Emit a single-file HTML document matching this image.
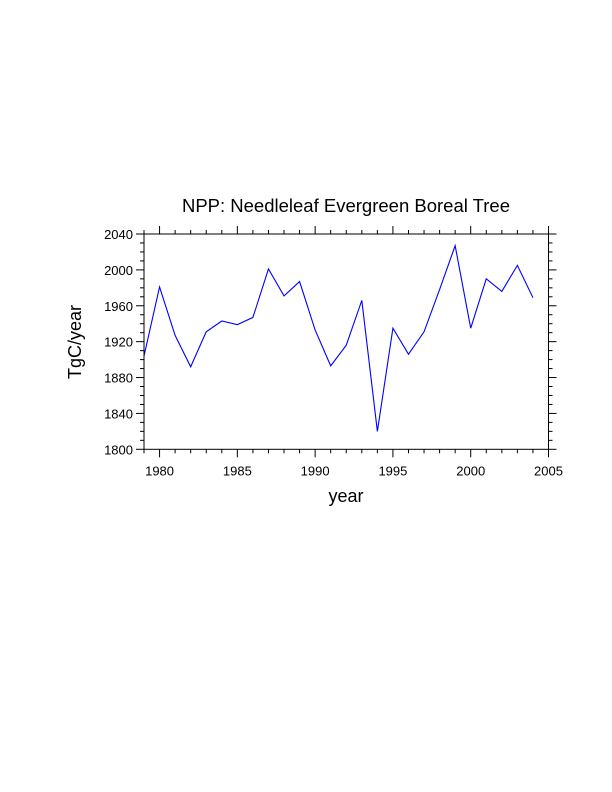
<!DOCTYPE html>
<html><head><meta charset="utf-8"><style>
html,body{margin:0;padding:0;background:#fff;}
svg{display:block;font-family:"Liberation Sans",Arial,sans-serif;}
</style></head><body>
<svg width="612" height="792">
<g id="ticks"></g>
<text x="346" y="212" text-anchor="middle" font-size="18.5">NPP: Needleleaf Evergreen Boreal Tree</text>
<text x="346" y="502" text-anchor="middle" font-size="18">year</text>
<text transform="translate(81,342) rotate(-90)" text-anchor="middle" font-size="18">TgC/year</text>
<path id="line" fill="none" stroke="#0000ff" stroke-width="1.1"/>
<rect x="144" y="234" width="404.5" height="215.3" fill="none" stroke="#000" stroke-width="1"/>
</svg>
<script>
const years=[1979,1980,1981,1982,1983,1984,1985,1986,1987,1988,1989,1990,1991,1992,1993,1994,1995,1996,1997,1998,1999,2000,2001,2002,2003,2004];
const npp=[1904,1981,1927,1892,1931,1943,1939,1947,2001,1971,1987,1933,1893,1916,1966,1820,1935,1906,1931,1978,2027,1935,1990,1976,2005,1969];
const xTicks=[1980,1985,1990,1995,2000,2005];
const yTicks=[1800,1840,1880,1920,1960,2000,2040];
const X0=144,X1=548.5,Y0=449.3,Y1=234;
const x=v=>X0+(v-1979)/(2005-1979)*(X1-X0);
const y=v=>Y0-(v-1800)/(2040-1800)*(Y0-Y1);
const ns="http://www.w3.org/2000/svg";
const g=document.getElementById('ticks');
function ln(a,b,c,d){const l=document.createElementNS(ns,'line');l.setAttribute('x1',a);l.setAttribute('y1',b);l.setAttribute('x2',c);l.setAttribute('y2',d);l.setAttribute('stroke','#000');l.setAttribute('stroke-width','1');


g.appendChild(l);}
function tx(s,a,b,anchor,name){const t=document.createElementNS(ns,'text');t.setAttribute('x',a);t.setAttribute('y',b);t.setAttribute('text-anchor',anchor);t.setAttribute('font-size','13');t.textContent=s;


g.appendChild(t);}
for(let yr=1979;yr<=2005;yr++){const L=(yr%5==0)?8:4;const px=x(yr);ln(px,Y0,px,Y0+L);ln(px,Y1,px,Y1-L);}
for(let v=1800;v<=2040;v+=10){const L=(v%40==0)?8:4;const py=y(v);ln(X0,py,X0-L,py);ln(X1,py,X1+L,py);}
xTicks.forEach(v=>tx(v,x(v),Y0+26,'middle','x-tick-label'));
yTicks.forEach(v=>tx(v,X0-11,y(v)+5,'end','y-tick-label'));
document.getElementById('line').setAttribute('d',years.map((yr,i)=>(i?'L':'M')+x(yr).toFixed(2)+','+y(npp[i]).toFixed(2)).join(''));
</script>
</body></html>
